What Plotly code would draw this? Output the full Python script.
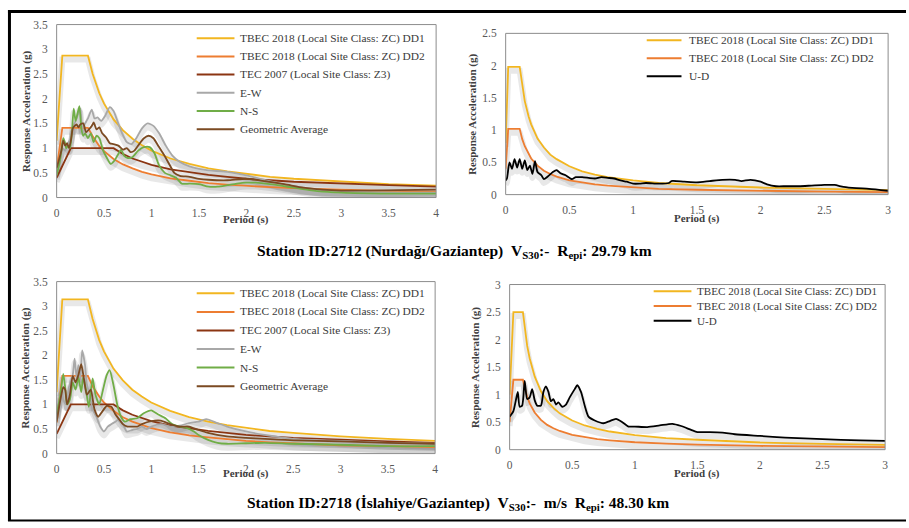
import plotly.graph_objects as go

# ---------------- Station 2712 (Nurdağı) : horizontal components ----------------
T_code_a = [0, 0.06, 0.33, 0.38, 0.45, 0.5, 0.6, 0.7, 0.8, 0.9, 1.0, 1.2, 1.4, 1.6,
            1.8, 2.0, 2.25, 2.5, 2.75, 3.0, 3.5, 4.0]
dd1_a = [1.15, 2.87, 2.87, 2.50, 2.11, 1.90, 1.58, 1.36, 1.19, 1.06, 0.95, 0.79, 0.68,
         0.59, 0.53, 0.48, 0.42, 0.38, 0.35, 0.32, 0.27, 0.24]
dd2_a = [0.58, 1.41, 1.41, 1.24, 1.04, 0.94, 0.78, 0.67, 0.59, 0.52, 0.47, 0.39, 0.34,
         0.29, 0.26, 0.235, 0.21, 0.19, 0.17, 0.16, 0.135, 0.12]

T_tec = [0, 0.15, 0.6, 0.7, 0.8, 0.9, 1.0, 1.2, 1.4, 1.6, 1.8, 2.0, 2.5, 3.0, 3.5, 4.0]
tec_2007 = [0.4, 1.0, 1.0, 0.88, 0.79, 0.72, 0.66, 0.57, 0.51, 0.46, 0.42, 0.38, 0.32,
            0.28, 0.25, 0.22]

T_ew_a = [0, 0.03, 0.06, 0.09, 0.12, 0.15, 0.18, 0.21, 0.25, 0.27, 0.3, 0.33, 0.37, 0.4,
          0.43, 0.47, 0.51, 0.56, 0.6, 0.64, 0.69, 0.74, 0.79, 0.84, 0.9, 0.96, 1.02,
          1.08, 1.15, 1.22, 1.3, 1.4, 1.5, 1.6, 1.8, 2.0, 2.2, 2.4, 2.6, 2.8, 3.0, 3.3,
          3.6, 4.0]
ew_a = [0.5, 0.75, 1.0, 0.95, 1.1, 1.2, 1.45, 1.6, 1.8, 1.4, 1.5, 1.6, 1.78, 1.6, 1.62,
        1.55, 1.65, 1.83, 1.75, 1.55, 1.3, 1.12, 1.08, 1.2, 1.4, 1.5, 1.45, 1.3, 1.05,
        0.85, 0.72, 0.63, 0.58, 0.55, 0.52, 0.45, 0.35, 0.26, 0.2, 0.15, 0.12, 0.1, 0.1,
        0.1]

T_ns_a = [0, 0.03, 0.05, 0.07, 0.09, 0.1, 0.12, 0.14, 0.16, 0.18, 0.2, 0.22, 0.24, 0.26,
          0.28, 0.3, 0.33, 0.36, 0.39, 0.42, 0.45, 0.49, 0.53, 0.57, 0.61, 0.65, 0.68,
          0.71, 0.75, 0.8, 0.86, 0.92, 0.98, 1.03, 1.08, 1.14, 1.2, 1.26, 1.32, 1.4,
          1.5, 1.6, 1.7, 1.8, 1.9, 2.0, 2.1, 2.25, 2.5, 2.75, 3.0, 3.5, 4.0]
ns_a = [0.45, 0.7, 0.95, 1.2, 1.1, 1.0, 1.05, 1.0, 1.3, 1.8, 1.55, 1.7, 1.85, 1.4, 1.25,
        1.3, 1.2, 1.3, 1.12, 1.25, 1.2, 0.95, 0.8, 0.68, 0.75, 0.88, 0.97, 0.85, 0.8,
        0.82, 0.95, 1.02, 1.02, 0.9, 0.65, 0.5, 0.45, 0.4, 0.28, 0.28, 0.27, 0.22, 0.22,
        0.25, 0.28, 0.3, 0.3, 0.27, 0.2, 0.13, 0.1, 0.08, 0.08]

T_geo_a = [0, 0.03, 0.05, 0.07, 0.09, 0.11, 0.13, 0.15, 0.17, 0.19, 0.21, 0.23, 0.25,
           0.28, 0.31, 0.34, 0.37, 0.39, 0.42, 0.45, 0.48, 0.52, 0.56, 0.6, 0.65, 0.7,
           0.74, 0.78, 0.82, 0.87, 0.92, 0.97, 1.02, 1.07, 1.12, 1.18, 1.24, 1.3, 1.4,
           1.5, 1.6, 1.8, 2.0, 2.2, 2.4, 2.6, 2.8, 3.0, 3.3, 3.6, 4.0]
geo_a = [0.6, 0.8, 0.95, 1.15, 1.05, 1.1, 1.0, 1.15, 1.4, 1.45, 1.48, 1.42, 1.48, 1.5,
         1.32, 1.38, 1.45, 1.52, 1.38, 1.42, 1.3, 1.22, 1.1, 1.08, 1.05, 0.97, 1.0, 0.92,
         0.95, 1.08, 1.2, 1.25, 1.2, 1.05, 0.9, 0.7, 0.5, 0.44, 0.42, 0.38, 0.36, 0.35,
         0.38, 0.33, 0.27, 0.2, 0.16, 0.14, 0.14, 0.15, 0.16]

# ---------------- Station 2712 (Nurdağı) : vertical component ----------------
T_code_b = [0, 0.02, 0.11, 0.13, 0.15, 0.18, 0.2, 0.25, 0.3, 0.35, 0.4, 0.5, 0.6, 0.7,
            0.8, 1.0, 1.2, 1.5, 2.0, 2.5, 3.0]
dd1_b = [0.8, 1.98, 1.98, 1.68, 1.45, 1.21, 1.09, 0.87, 0.73, 0.62, 0.55, 0.44, 0.36,
         0.31, 0.27, 0.22, 0.18, 0.145, 0.11, 0.09, 0.07]
dd2_b = [0.4, 1.02, 1.02, 0.86, 0.75, 0.62, 0.56, 0.45, 0.37, 0.32, 0.28, 0.22, 0.185,
         0.16, 0.14, 0.11, 0.09, 0.075, 0.055, 0.045, 0.037]

T_ud_b = [0, 0.01, 0.03, 0.05, 0.07, 0.09, 0.11, 0.13, 0.15, 0.17, 0.19, 0.21, 0.23,
          0.25, 0.28, 0.3, 0.33, 0.37, 0.4, 0.43, 0.47, 0.52, 0.55, 0.6, 0.65, 0.7, 0.75,
          0.8, 0.85, 0.9, 0.95, 1.0, 1.05, 1.1, 1.2, 1.28, 1.3, 1.4, 1.5, 1.6, 1.7, 1.8,
          1.85, 1.92, 2.0, 2.05, 2.12, 2.2, 2.3, 2.4, 2.5, 2.58, 2.65, 2.75, 2.85, 3.0]
ud_b = [0.22, 0.25, 0.5, 0.4, 0.55, 0.42, 0.55, 0.4, 0.53, 0.38, 0.45, 0.32, 0.52, 0.35,
        0.3, 0.24, 0.28, 0.35, 0.38, 0.33, 0.3, 0.24, 0.27, 0.27, 0.26, 0.25, 0.27, 0.26,
        0.25, 0.22, 0.2, 0.17, 0.17, 0.18, 0.17, 0.18, 0.21, 0.2, 0.19, 0.21, 0.23, 0.23,
        0.21, 0.23, 0.2, 0.16, 0.13, 0.13, 0.13, 0.14, 0.15, 0.15, 0.12, 0.1, 0.09, 0.06]

# ---------------- Station 2718 (İslahiye) : horizontal components ----------------
T_code_c = [0, 0.06, 0.33, 0.38, 0.45, 0.5, 0.6, 0.7, 0.8, 0.9, 1.0, 1.2, 1.4, 1.6,
            1.8, 2.0, 2.25, 2.5, 2.75, 3.0, 3.5, 4.0]
dd1_c = [1.25, 3.14, 3.14, 2.74, 2.31, 2.08, 1.73, 1.49, 1.30, 1.16, 1.04, 0.87, 0.74,
         0.65, 0.58, 0.52, 0.46, 0.42, 0.38, 0.35, 0.30, 0.26]
dd2_c = [0.63, 1.58, 1.58, 1.37, 1.16, 1.04, 0.87, 0.74, 0.65, 0.58, 0.52, 0.43, 0.37,
         0.33, 0.29, 0.26, 0.23, 0.21, 0.19, 0.17, 0.15, 0.13]

T_ew_c = [0, 0.05, 0.07, 0.1, 0.13, 0.17, 0.19, 0.21, 0.23, 0.25, 0.27, 0.3, 0.32, 0.35,
          0.38, 0.42, 0.46, 0.5, 0.54, 0.58, 0.62, 0.66, 0.7, 0.74, 0.8, 0.85, 0.9, 0.95,
          1.0, 1.1, 1.2, 1.3, 1.4, 1.5, 1.58, 1.7, 1.8, 2.0, 2.2, 2.5, 2.8, 3.0, 3.5, 4.0]
ew_c = [0.7, 1.3, 1.1, 1.0, 1.35, 1.6, 1.93, 1.55, 1.8, 1.5, 2.1, 1.8, 1.4, 1.2, 0.9,
        0.75, 0.55, 0.45, 0.55, 0.6, 0.65, 0.7, 0.6, 0.45, 0.48, 0.5, 0.55, 0.5, 0.55,
        0.6, 0.55, 0.57, 0.62, 0.65, 0.7, 0.62, 0.55, 0.45, 0.38, 0.3, 0.27, 0.26, 0.22,
        0.2]

T_ns_c = [0, 0.04, 0.07, 0.09, 0.11, 0.14, 0.17, 0.2, 0.23, 0.26, 0.28, 0.31, 0.34,
          0.38, 0.41, 0.45, 0.49, 0.53, 0.56, 0.6, 0.64, 0.68, 0.72, 0.78, 0.85, 0.92,
          1.0, 1.07, 1.15, 1.22, 1.3, 1.38, 1.45, 1.5, 1.6, 1.7, 1.8, 2.0, 2.2, 2.5, 3.0,
          3.5, 4.0]
ns_c = [0.8, 1.2, 1.62, 1.35, 1.0, 1.1, 1.45, 1.3, 1.55, 1.25, 1.55, 1.3, 0.95, 1.53,
        1.2, 1.0, 1.3, 1.6, 1.7, 1.4, 1.0, 0.75, 0.65, 0.7, 0.72, 0.82, 0.88, 0.8, 0.72,
        0.6, 0.55, 0.52, 0.45, 0.38, 0.28, 0.22, 0.2, 0.21, 0.22, 0.2, 0.18, 0.15, 0.15]

T_geo_c = [0, 0.04, 0.07, 0.09, 0.11, 0.14, 0.17, 0.2, 0.23, 0.26, 0.29, 0.32, 0.36,
           0.4, 0.44, 0.48, 0.53, 0.58, 0.62, 0.66, 0.7, 0.75, 0.8, 0.85, 0.9, 1.0, 1.1,
           1.2, 1.3, 1.4, 1.5, 1.6, 1.8, 2.0, 2.2, 2.5, 3.0, 3.5, 4.0]
geo_c = [0.65, 1.1, 1.35, 1.3, 1.0, 1.2, 1.58, 1.45, 1.6, 1.82, 1.5, 1.2, 1.3, 0.9, 0.75,
         0.85, 0.97, 0.95, 0.8, 0.7, 0.6, 0.55, 0.55, 0.55, 0.6, 0.66, 0.67, 0.6, 0.55,
         0.55, 0.48, 0.42, 0.35, 0.32, 0.3, 0.27, 0.25, 0.22, 0.2]

# ---------------- Station 2718 (İslahiye) : vertical component ----------------
T_code_d = [0, 0.03, 0.106, 0.12, 0.14, 0.16, 0.18, 0.2, 0.25, 0.3, 0.35, 0.4, 0.5, 0.6,
            0.7, 0.8, 1.0, 1.25, 1.5, 2.0, 2.5, 3.0]
dd1_d = [1.0, 2.5, 2.5, 2.21, 1.89, 1.66, 1.47, 1.33, 1.06, 0.88, 0.76, 0.66, 0.53, 0.44,
         0.38, 0.33, 0.265, 0.21, 0.18, 0.13, 0.106, 0.088]
dd2_d = [0.5, 1.27, 1.27, 1.13, 0.96, 0.84, 0.75, 0.675, 0.54, 0.45, 0.39, 0.34, 0.27,
         0.225, 0.19, 0.17, 0.135, 0.11, 0.09, 0.068, 0.054, 0.045]

T_ud_d = [0, 0.03, 0.05, 0.065, 0.08, 0.1, 0.12, 0.14, 0.16, 0.18, 0.2, 0.22, 0.25,
          0.27, 0.29, 0.31, 0.33, 0.35, 0.37, 0.39, 0.42, 0.45, 0.48, 0.52, 0.54, 0.57,
          0.6, 0.63, 0.68, 0.75, 0.8, 0.85, 0.9, 0.95, 1.0, 1.1, 1.2, 1.3, 1.37, 1.45,
          1.5, 1.6, 1.7, 1.8, 2.0, 2.2, 2.5, 2.8, 3.0]
ud_d = [0.6, 0.7, 0.9, 1.05, 0.78, 0.8, 1.25, 0.92, 0.95, 1.1, 0.9, 0.8, 0.8, 1.05, 1.15,
        1.05, 0.88, 0.92, 0.82, 0.86, 0.78, 0.82, 0.95, 1.1, 1.17, 1.05, 0.8, 0.6, 0.53,
        0.48, 0.52, 0.56, 0.5, 0.42, 0.42, 0.41, 0.44, 0.47, 0.43, 0.36, 0.32, 0.32, 0.31,
        0.28, 0.25, 0.22, 0.19, 0.17, 0.16]

# ---------------- styling ----------------
NAME_DD1 = "TBEC 2018 (Local Site Class: ZC) DD1"
NAME_DD2 = "TBEC 2018 (Local Site Class: ZC) DD2"
NAME_TEC = "TEC 2007 (Local Site Class: Z3)"
C_DD1, C_DD2, C_TEC = "#F2B620", "#ED7D31", "#8B3512"
C_EW, C_NS, C_GEO, C_UD = "#A8A8A8", "#70AD47", "#7B4A22", "#000000"
SERIF = "Liberation Serif"
W, H = 909, 528


def fx(p):
    return p / W


def fy(p):
    return 1 - p / H


# pixel boxes of the four plot areas and their legend layout
panels = [
    dict(box=(54, 19, 436, 196), xmax=4, ymax=3.5, xtitle_y=218, ytitle_x=23,
         leg=(195, 233, 237, 33, 18.6, 11.4),
         series=[(NAME_DD1, T_code_a, dd1_a, C_DD1, False),
                 (NAME_DD2, T_code_a, dd2_a, C_DD2, False),
                 (NAME_TEC, T_tec, tec_2007, C_TEC, False),
                 ("E-W", T_ew_a, ew_a, C_EW, True),
                 ("N-S", T_ns_a, ns_a, C_NS, True),
                 ("Geometric Average", T_geo_a, geo_a, C_GEO, True)]),
    dict(box=(506, 28, 891, 193), xmax=3, ymax=2.5, xtitle_y=217, ytitle_x=473,
         leg=(648, 683, 689, 35, 18.5, 11.4),
         series=[(NAME_DD1, T_code_b, dd1_b, C_DD1, False),
                 (NAME_DD2, T_code_b, dd2_b, C_DD2, False),
                 ("U-D", T_ud_b, ud_b, C_UD, True)]),
    dict(box=(54, 282, 435, 458), xmax=4, ymax=3.5, xtitle_y=478, ytitle_x=23,
         leg=(195, 233, 237, 294, 19, 11.4),
         series=[(NAME_DD1, T_code_c, dd1_c, C_DD1, False),
                 (NAME_DD2, T_code_c, dd2_c, C_DD2, False),
                 (NAME_TEC, T_tec, tec_2007, C_TEC, False),
                 ("E-W", T_ew_c, ew_c, C_EW, True),
                 ("N-S", T_ns_c, ns_c, C_NS, True),
                 ("Geometric Average", T_geo_c, geo_c, C_GEO, True)]),
    dict(box=(510, 285, 888, 454), xmax=3, ymax=3, xtitle_y=478, ytitle_x=475,
         leg=(655, 693, 697, 292, 15, 11.1),
         series=[(NAME_DD1, T_code_d, dd1_d, C_DD1, False),
                 (NAME_DD2, T_code_d, dd2_d, C_DD2, False),
                 ("U-D", T_ud_d, ud_d, C_UD, True)]),
]

fig = go.Figure()
layout = dict(width=W, height=H, margin=dict(l=0, r=0, t=0, b=0),
              paper_bgcolor="white", plot_bgcolor="white", showlegend=False,
              font=dict(family=SERIF))
shapes, annotations = [], []
SHADOW_PX = 4

for k, p in enumerate(panels, start=1):
    x0, y0, x1, y1 = p["box"]
    ax_sh = f"y{k}"          # offset axis used for the drop shadows
    ax_main = f"y{k + 4}"    # visible value axis
    h_px = y1 - y0
    shift = SHADOW_PX * p["ymax"] / h_px
    tickfont = dict(family=SERIF, size=11.5, color="#595959")

    layout[f"xaxis{k}"] = dict(domain=[fx(x0), fx(x1)], anchor=ax_sh, range=[0, p["xmax"]],
                               dtick=0.5, showgrid=False, zeroline=False, showline=False,
                               ticks="", tickfont=tickfont, ticklabelstandoff=7)
    layout[f"yaxis{k}"] = dict(domain=[fy(y1), fy(y0)], anchor=f"x{k}",
                               range=[shift, p["ymax"] + shift], visible=False,
                               showgrid=False, zeroline=False)
    layout[f"yaxis{k + 4}"] = dict(overlaying=ax_sh, anchor=f"x{k}", side="left",
                                   range=[0, p["ymax"]], dtick=0.5, showgrid=False,
                                   zeroline=False, showline=False, ticks="",
                                   tickfont=tickfont, ticklabelstandoff=8)

    for name, tx, ty, col, smooth in p["series"]:
        shape = "spline" if smooth else "linear"
        fig.add_trace(go.Scatter(x=tx, y=ty, mode="lines", xaxis=f"x{k}", yaxis=ax_sh,
                                 line=dict(color="rgba(0,0,0,0.09)", width=6, shape=shape,
                                           smoothing=0.6),
                                 hoverinfo="skip", showlegend=False))
    for name, tx, ty, col, smooth in p["series"]:
        shape = "spline" if smooth else "linear"
        fig.add_trace(go.Scatter(x=tx, y=ty, mode="lines", name=name, xaxis=f"x{k}",
                                 yaxis=ax_main,
                                 line=dict(color=col, width=1.8, shape=shape, smoothing=0.6)))

    # plot-area frame
    shapes.append(dict(type="rect", xref="paper", yref="paper", x0=fx(x0), x1=fx(x1),
                       y0=fy(y1), y1=fy(y0), line=dict(color="#8C8C8C", width=1),
                       layer="above"))

    # axis titles
    annotations.append(dict(text="<b>Response Acceleration (g)</b>", textangle=-90,
                            xref="paper", yref="paper", x=fx(p["ytitle_x"]),
                            y=fy((y0 + y1) / 2), showarrow=False, xanchor="center",
                            yanchor="middle",
                            font=dict(family=SERIF, size=11, color="#404040")))
    annotations.append(dict(text="<b>Period (s)</b>", xref="paper", yref="paper",
                            x=fx((x0 + x1) / 2), y=fy(p["xtitle_y"]), showarrow=False,
                            xanchor="center", yanchor="middle",
                            font=dict(family=SERIF, size=11, color="#404040")))

    # legend entries
    lx0, lx1, tx0, ry0, step, fsize = p["leg"]
    for i, (name, _, _, col, _) in enumerate(p["series"]):
        ry = ry0 + i * step
        shapes.append(dict(type="line", xref="paper", yref="paper", x0=fx(lx0), x1=fx(lx1),
                           y0=fy(ry), y1=fy(ry), line=dict(color=col, width=2)))
        annotations.append(dict(text=name, xref="paper", yref="paper", x=fx(tx0), y=fy(ry),
                                showarrow=False, xanchor="left", yanchor="middle",
                                font=dict(family=SERIF, size=fsize, color="#3A3A3A")))

# station captions
captions = [
    ("Station ID:2712 (Nurdağı/Gaziantep)&nbsp;&nbsp;V<sub>S30</sub>:-&nbsp;&nbsp;"
     "R<sub>epi</sub>: 29.79 km", 454, 251),
    ("Station ID:2718 (İslahiye/Gaziantep)&nbsp;&nbsp;V<sub>S30</sub>:-&nbsp;&nbsp;m/s"
     "&nbsp;&nbsp;R<sub>epi</sub>: 48.30 km", 458, 509),
]
for text, cx, cy in captions:
    annotations.append(dict(text=f"<b>{text}</b>", xref="paper", yref="paper", x=fx(cx),
                            y=fy(cy), showarrow=False, xanchor="center", yanchor="middle",
                            font=dict(family=SERIF, size=15.5, color="#000000")))

# outer frame
shapes.append(dict(type="line", xref="paper", yref="paper", x0=fx(5), x1=1,
                   y0=fy(5.5), y1=fy(5.5), line=dict(color="black", width=3)))
shapes.append(dict(type="line", xref="paper", yref="paper", x0=fx(6.5), x1=fx(6.5),
                   y0=fy(4), y1=fy(527), line=dict(color="black", width=3)))
shapes.append(dict(type="line", xref="paper", yref="paper", x0=fx(5), x1=1,
                   y0=fy(526.5), y1=fy(526.5), line=dict(color="black", width=2)))

layout["shapes"] = shapes
layout["annotations"] = annotations
fig.update_layout(**layout)
fig.write_html("out.html")
